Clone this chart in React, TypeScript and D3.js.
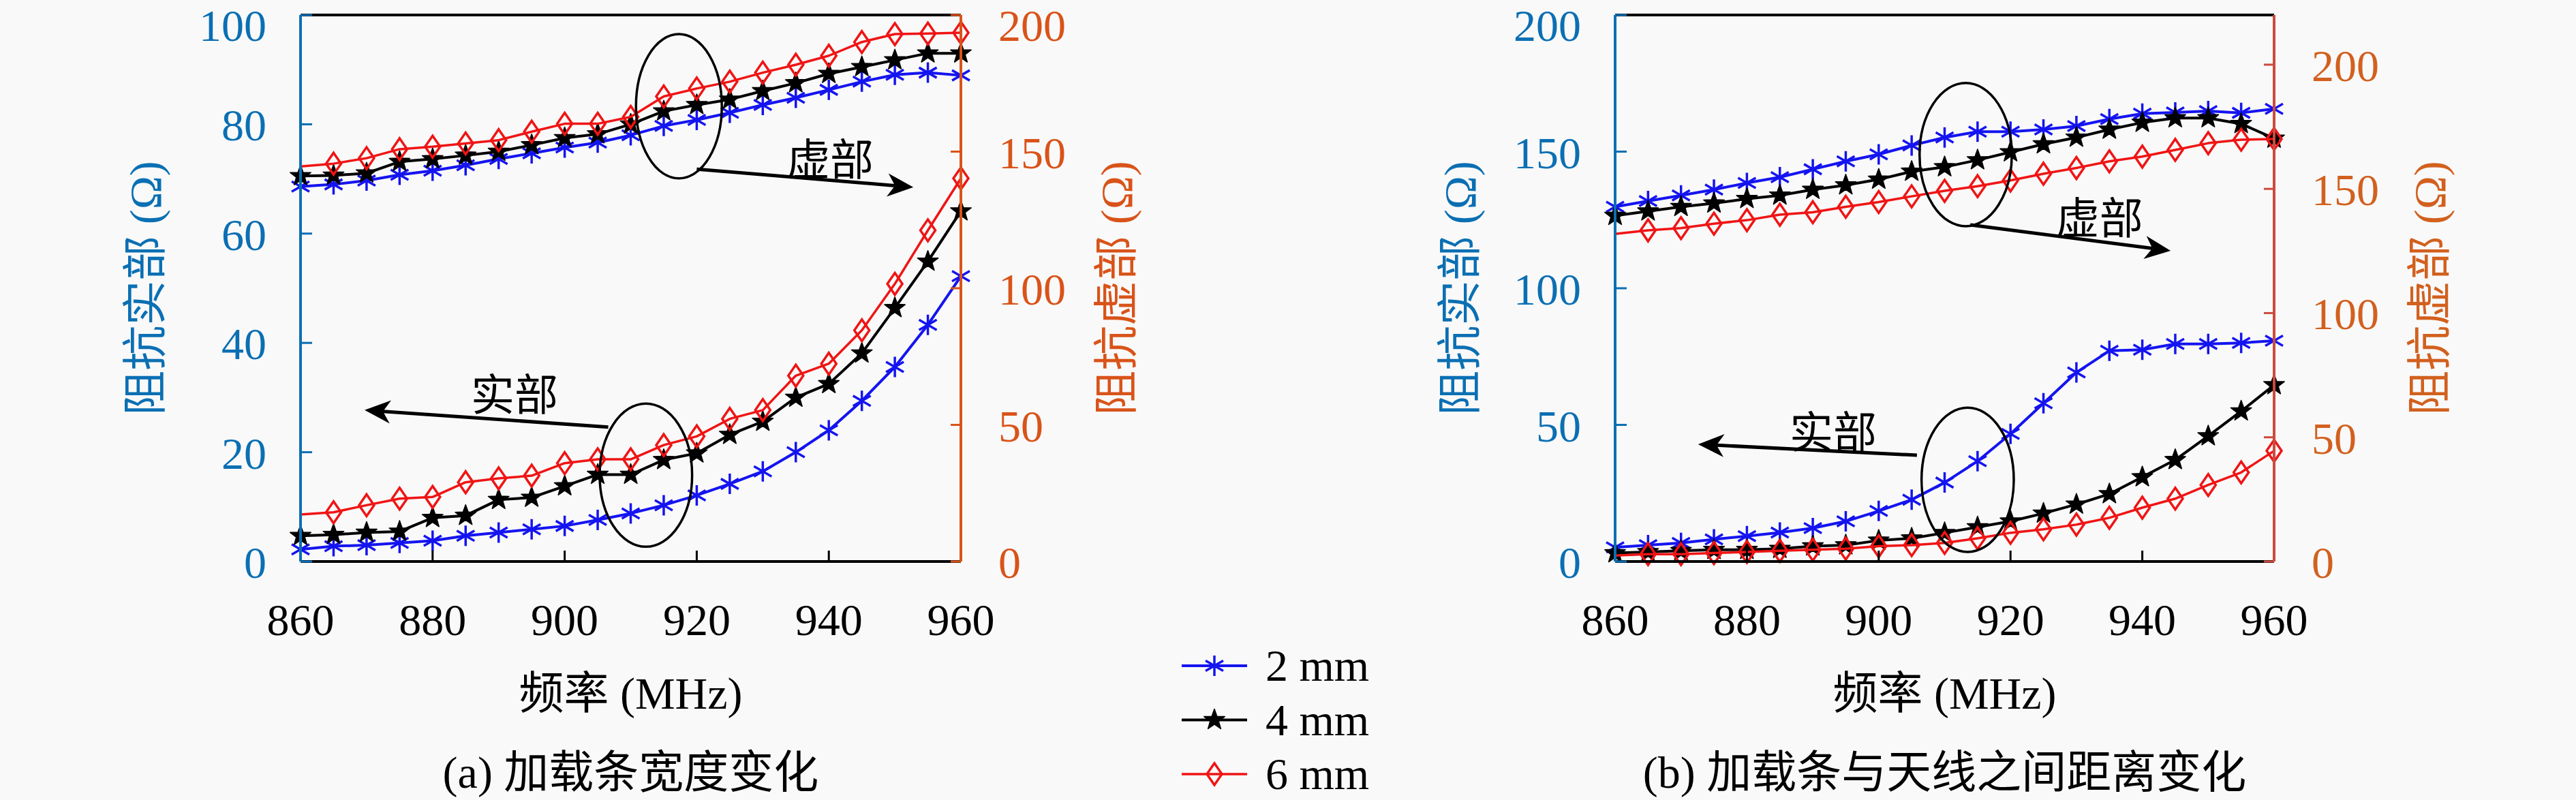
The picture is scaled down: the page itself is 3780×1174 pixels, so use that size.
import * as d3 from 'd3';

// frequency points (MHz)
const freqs = [860, 865, 870, 875, 880, 885, 890, 895, 900, 905, 910, 915, 920, 925, 930, 935, 940, 945, 950, 955, 960];
const xTicks = [860, 880, 900, 920, 940, 960];

// (a) 加载条宽度变化 — real part (left axis), imaginary part (right axis)
const realA2 = [2.2, 2.8, 3.0, 3.4, 3.8, 4.7, 5.3, 5.9, 6.5, 7.6, 8.8, 10.3, 12.1, 14.2, 16.5, 20.0, 24.0, 29.4, 35.6, 43.3, 52.2];
const realA4 = [4.7, 4.9, 5.3, 5.5, 8.0, 8.4, 11.3, 11.7, 13.8, 15.9, 15.9, 18.6, 19.8, 23.2, 25.6, 30.0, 32.5, 38.1, 46.4, 54.9, 64.1];
const realA6 = [8.6, 9.0, 10.3, 11.5, 11.8, 14.5, 15.2, 15.7, 18.0, 18.7, 18.7, 21.3, 22.9, 26.1, 27.7, 34.0, 36.2, 42.3, 50.8, 60.6, 70.1];
const imagA2 = [137.2, 138.0, 139.4, 141.5, 143.0, 145.0, 147.3, 149.4, 151.5, 153.3, 156.0, 159.4, 161.6, 164.2, 167.1, 169.7, 172.6, 175.6, 178.1, 178.9, 177.9];
const imagA4 = [141.1, 141.3, 142.1, 146.3, 147.3, 148.6, 150.0, 152.4, 155.0, 156.4, 160.0, 164.8, 167.1, 169.1, 172.2, 175.1, 178.5, 181.0, 183.5, 186.0, 186.0];
const imagA6 = [144.6, 145.6, 147.6, 150.9, 151.8, 153.0, 154.2, 157.3, 160.2, 160.2, 162.7, 170.2, 173.1, 175.6, 178.9, 181.8, 185.1, 190.1, 193.0, 193.2, 193.5];

// (b) 加载条与天线之间距离变化
const realB2 = [5.2, 6.0, 6.8, 8.1, 9.3, 10.6, 12.2, 14.7, 18.5, 22.6, 28.9, 36.7, 46.7, 57.9, 69.2, 77.1, 77.5, 79.6, 79.6, 80.0, 80.8];
const realB4 = [3.1, 3.5, 3.9, 4.3, 4.3, 4.7, 5.6, 6.0, 7.7, 8.5, 10.5, 12.6, 14.7, 17.6, 20.9, 24.7, 30.9, 37.2, 45.9, 55.0, 64.6];
const realB6 = [2.2, 2.7, 2.7, 3.1, 3.5, 3.9, 4.3, 4.7, 5.6, 6.0, 6.8, 8.5, 10.5, 11.8, 13.5, 16.0, 19.7, 23.0, 28.0, 32.6, 40.5];
const imagB2 = [142.8, 145.1, 147.4, 149.7, 152.4, 154.7, 157.9, 161.1, 163.9, 167.5, 170.7, 173.0, 173.0, 173.9, 175.3, 178.1, 180.3, 180.8, 181.3, 180.6, 182.2];
const imagB4 = [139.2, 141.0, 142.8, 144.2, 146.0, 147.4, 149.7, 151.5, 153.8, 157.0, 158.8, 161.6, 164.8, 168.0, 170.7, 173.9, 176.7, 178.5, 178.5, 176.2, 170.3];
const imagB6 = [131.9, 133.3, 134.2, 136.0, 137.4, 139.6, 140.6, 142.8, 144.7, 147.0, 149.2, 151.1, 153.4, 156.1, 158.4, 161.1, 163.0, 165.7, 168.4, 169.8, 170.1];

const leftTicksA = [0, 20, 40, 60, 80, 100];
const rightTicksA = [0, 50, 100, 150, 200];
const leftTicksB = [0, 50, 100, 150, 200];
const rightTicksB = [0, 50, 100, 150, 200];

const seriesNames = ['2 mm', '4 mm', '6 mm'];

// annotations, in (MHz, left-axis value) units
const ellipsesA = [
  { f: 917.3, v: 83.3, df: 6.5, dv: 13.2 },
  { f: 912.3, v: 15.8, df: 7.0, dv: 13.1 },
];
const arrowsA = [
  { f0: 920.0, v0: 71.8, f1: 952.8, v1: 68.5 },
  { f0: 906.6, v0: 24.6, f1: 869.7, v1: 27.7 },
];
const notesA = [
  { text: '虚部', f: 940.2, v: 70.7 },
  { text: '实部', f: 892.4, v: 27.7 },
];
const ellipsesB = [
  { f: 913.2, v: 148.9, df: 7.0, dv: 26.2 },
  { f: 913.5, v: 29.9, df: 7.0, dv: 26.4 },
];
const arrowsB = [
  { f0: 913.9, v0: 123.2, f1: 944.3, v1: 113.7 },
  { f0: 905.8, v0: 38.9, f1: 872.6, v1: 42.9 },
];
const notesB = [
  { text: '虚部', f: 933.5, v: 119.9 },
  { text: '实部', f: 893.1, v: 41.6 },
];

const FONT = "'Liberation Serif', 'Noto Sans CJK SC', serif";
const BLUE_AXIS = '#0B6FB3';
const STYLES = [
  { color: '#1414F0', width: 4, marker: 'asterisk', skip: 0 },
  { color: '#000000', width: 4, marker: 'star', skip: 0 },
  { color: '#F01414', width: 3.5, marker: 'diamond', skip: 1 },
];

function markerPath(kind: string) {
  if (kind === 'asterisk') {
    const r = 15;
    const c = r * Math.cos(Math.PI / 6);
    const s = r * 0.5;
    return `M0,${-r}L0,${r}M${-c},${-s}L${c},${s}M${-c},${s}L${c},${-s}`;
  }
  if (kind === 'star') {
    const pts: string[] = [];
    for (let i = 0; i < 10; i++) {
      const rr = i % 2 === 0 ? 16 : 6.5;
      const a = -Math.PI / 2 + (i * Math.PI) / 5;
      pts.push(`${(rr * Math.cos(a)).toFixed(2)},${(rr * Math.sin(a)).toFixed(2)}`);
    }
    return `M${pts.join('L')}Z`;
  }
  return 'M0,-16L11,0L0,16L-11,0Z';
}

function Marker({ kind, x, y, color }: { kind: string; x: number; y: number; color: string }) {
  const d = markerPath(kind);
  if (kind === 'asterisk') return <path d={d} transform={`translate(${x},${y})`} stroke={color} strokeWidth={3.5} fill="none" />;
  if (kind === 'star') return <path d={d} transform={`translate(${x},${y})`} fill={color} stroke={color} strokeWidth={1.5} strokeLinejoin="round" />;
  return <path d={d} transform={`translate(${x},${y})`} fill="none" stroke={color} strokeWidth={3.5} />;
}

function Arrow({ x1, y1, x2, y2 }: { x1: number; y1: number; x2: number; y2: number }) {
  const a = Math.atan2(y2 - y1, x2 - x1);
  const ux = Math.cos(a), uy = Math.sin(a);
  const px = -uy, py = ux;
  const L = 38, hw = 17, notch = 11;
  const bx = x2 - ux * L, by = y2 - uy * L;
  const nx = x2 - ux * (L - notch), ny = y2 - uy * (L - notch);
  return (
    <g>
      <line x1={x1} y1={y1} x2={nx} y2={ny} stroke="#000" strokeWidth={5} />
      <path d={`M${x2},${y2}L${bx + px * hw},${by + py * hw}L${nx},${ny}L${bx - px * hw},${by - py * hw}Z`} fill="#000" />
    </g>
  );
}

interface PanelProps {
  x0: number;
  x1: number;
  leftMax: number;
  leftTicks: number[];
  rightMax: number;
  rightTicks: number[];
  real: number[][];
  imag: number[][];
  rightLine: string;
  rightText: string;
  caption: string;
  ellipses: { f: number; v: number; df: number; dv: number }[];
  arrows: { f0: number; v0: number; f1: number; v1: number }[];
  notes: { text: string; f: number; v: number }[];
}

// digits sit ~2px below the tick; keep the top label inside the page
const labelBaseline = (y: number) => Math.max(y + 24, 60);

function Panel(p: PanelProps) {
  const top = 22, bottom = 824;
  const x = d3.scaleLinear().domain([860, 960]).range([p.x0, p.x1]);
  const yL = d3.scaleLinear().domain([0, p.leftMax]).range([bottom, top]);
  const yR = d3.scaleLinear().domain([0, p.rightMax]).range([bottom, top]);
  const mid = (p.x0 + p.x1) / 2;

  const drawSeries = (vals: number[], i: number, y: d3.ScaleLinear<number, number>, key: string) => {
    const st = STYLES[i];
    const gen = d3.line<number>().x((_, j) => x(freqs[j])).y((v) => y(v));
    return (
      <g key={key}>
        <path d={gen(vals) || ''} fill="none" stroke={st.color} strokeWidth={st.width} strokeLinejoin="round" />
        {vals.map((v, j) =>
          j < st.skip ? null : <Marker key={j} kind={st.marker} x={x(freqs[j])} y={y(v)} color={st.color} />
        )}
      </g>
    );
  };

  return (
    <g fontFamily={FONT}>
      {/* data */}
      {p.real.map((vals, i) => drawSeries(vals, i, yL, `r${i}`))}
      {p.imag.map((vals, i) => drawSeries(vals, i, yR, `i${i}`))}

      {/* annotations */}
      {p.ellipses.map((e, i) => (
        <ellipse key={i} cx={x(e.f)} cy={yL(e.v)} rx={x(e.f + e.df) - x(e.f)} ry={yL(e.v) - yL(e.v + e.dv)} fill="none" stroke="#000" strokeWidth={3.5} />
      ))}
      {p.arrows.map((a, i) => (
        <Arrow key={i} x1={x(a.f0)} y1={yL(a.v0)} x2={x(a.f1)} y2={yL(a.v1)} />
      ))}
      {p.notes.map((n, i) => (
        <text key={i} x={x(n.f)} y={yL(n.v)} textAnchor="middle" fontSize={64} fill="#000">{n.text}</text>
      ))}

      {/* frame */}
      <line x1={p.x0} x2={p.x1} y1={top} y2={top} stroke="#000" strokeWidth={4} />
      <line x1={p.x0} x2={p.x1} y1={bottom} y2={bottom} stroke="#000" strokeWidth={4} />
      {xTicks.slice(1, -1).map((t) => (
        <line key={t} x1={x(t)} x2={x(t)} y1={bottom} y2={bottom - 16} stroke="#000" strokeWidth={3} />
      ))}
      {xTicks.map((t) => (
        <text key={t} x={x(t)} y={932} textAnchor="middle" fontSize={66} fill="#000">{t}</text>
      ))}
      <text x={mid} y={1040} textAnchor="middle" fontSize={66} fill="#000">频率 (MHz)</text>
      <text x={mid} y={1156} textAnchor="middle" fontSize={66} fill="#000">{p.caption}</text>

      {/* left axis */}
      <line x1={p.x0} x2={p.x0} y1={top} y2={bottom} stroke={BLUE_AXIS} strokeWidth={4} />
      {p.leftTicks.map((t) => (
        <g key={t}>
          <line x1={p.x0} x2={p.x0 + 17} y1={yL(t)} y2={yL(t)} stroke={BLUE_AXIS} strokeWidth={3} />
          <text x={p.x0 - 50} y={labelBaseline(yL(t))} textAnchor="end" fontSize={66} fill={BLUE_AXIS}>{t}</text>
        </g>
      ))}
      <text transform={`translate(${p.x0 - 228},${(top + bottom) / 2}) rotate(-90)`} textAnchor="middle" dominantBaseline="central" fontSize={66} fill={BLUE_AXIS}>阻抗实部 (Ω)</text>

      {/* right axis */}
      <line x1={p.x1} x2={p.x1} y1={top} y2={bottom} stroke={p.rightLine} strokeWidth={4} />
      {p.rightTicks.map((t) => (
        <g key={t}>
          <line x1={p.x1} x2={p.x1 - 15} y1={yR(t)} y2={yR(t)} stroke={p.rightLine} strokeWidth={3} />
          <text x={p.x1 + 55} y={labelBaseline(yR(t))} textAnchor="start" fontSize={66} fill={p.rightText}>{t}</text>
        </g>
      ))}
      <text transform={`translate(${p.x1 + 228},${(top + bottom) / 2}) rotate(-90)`} textAnchor="middle" dominantBaseline="central" fontSize={66} fill={p.rightText}>阻抗虚部 (Ω)</text>
    </g>
  );
}

export default function App() {
  const legendY = d3.scaleLinear().domain([0, 2]).range([977, 1136]);
  return (
    <svg width={3780} height={1174} style={{ position: 'absolute', left: 0, top: 0 }}>
      <rect width={3780} height={1174} fill="#F9F9F9" />
      <Panel
        x0={441}
        x1={1410}
        leftMax={100}
        leftTicks={leftTicksA}
        rightMax={200}
        rightTicks={rightTicksA}
        real={[realA2, realA4, realA6]}
        imag={[imagA2, imagA4, imagA6]}
        rightLine="#D95319"
        rightText="#D95319"
        caption="(a) 加载条宽度变化"
        ellipses={ellipsesA}
        arrows={arrowsA}
        notes={notesA}
      />
      <Panel
        x0={2370}
        x1={3337}
        leftMax={200}
        leftTicks={leftTicksB}
        rightMax={220}
        rightTicks={rightTicksB}
        real={[realB2, realB4, realB6]}
        imag={[imagB2, imagB4, imagB6]}
        rightLine="#CC4B3D"
        rightText="#D2601E"
        caption="(b) 加载条与天线之间距离变化"
        ellipses={ellipsesB}
        arrows={arrowsB}
        notes={notesB}
      />
      {/* legend */}
      <g fontFamily={FONT}>
        {seriesNames.map((name, i) => {
          const y = legendY(i);
          const st = STYLES[i];
          return (
            <g key={name}>
              <line x1={1734} x2={1830} y1={y} y2={y} stroke={st.color} strokeWidth={st.width} />
              <Marker kind={st.marker} x={1782} y={y} color={st.color} />
              <text x={1857} y={y + 22} fontSize={66} fill="#000">{name}</text>
            </g>
          );
        })}
      </g>
    </svg>
  );
}
